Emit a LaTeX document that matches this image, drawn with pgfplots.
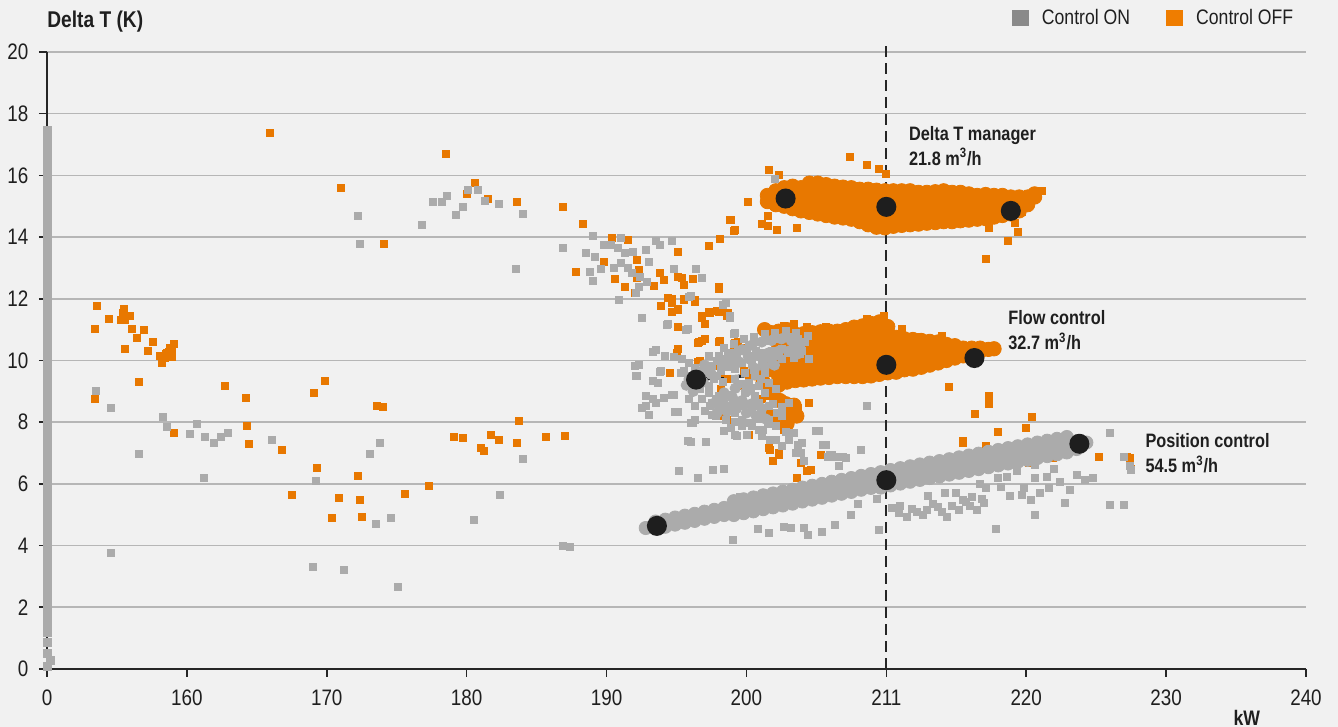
\documentclass[border=0pt]{standalone}
\usepackage{fontspec}
\setmainfont{Liberation Sans}[FakeStretch=0.84]
\usepackage{pgfplots}
\pgfplotsset{compat=1.18}
\definecolor{bgc}{HTML}{F1F1F1}
\definecolor{gridc}{HTML}{B6B6B6}
\definecolor{axisc}{HTML}{262626}
\definecolor{textc}{HTML}{1F1F1F}
\definecolor{grayp}{HTML}{ABABAB}
\definecolor{orangep}{HTML}{E87800}
\definecolor{legendgray}{HTML}{8A8A8A}
\definecolor{legendorange}{HTML}{EF7D00}
\definecolor{dotc}{HTML}{1E1E1E}
\begin{document}
\begin{tikzpicture}
\path[fill=bgc, use as bounding box] (-23.5pt,-29pt) rectangle (645.5pt,334.5pt);
\begin{axis}[
  at={(0pt,0pt)}, anchor=south west,
  scale only axis, width=629.5pt, height=308.5pt,
  xmin=150, xmax=240, ymin=0, ymax=20,
  axis lines*=left,
  axis line style={draw=axisc, line width=0.9pt},
  xtick={150,160,...,240},
  xticklabels={0,160,170,180,190,200,211,220,230,240},
  ytick={0,2,...,20},
  tick align=outside, major tick length=4pt,
  tick style={draw=axisc, line width=0.8pt},
  ymajorgrids, grid style={draw=gridc, line width=0.8pt},
  /pgf/number format/assume math mode=true,
  tick label style={font=\fontsize{11.2}{13}\selectfont, text=textc},
  yticklabel style={xshift=-1.8pt},
  xticklabel style={yshift=-2.8pt},
  clip=false,
  xlabel={kW},
  every axis x label/.style={at={(axis description cs:0.953,0)}, anchor=center, yshift=-24.5pt, font=\bfseries\fontsize{10.5}{12}\selectfont, text=textc},
  ylabel={Delta T (K)},
  every axis y label/.style={at={(axis description cs:0,1)}, anchor=west, yshift=15pt, inner sep=0pt, font=\bfseries\fontsize{11.4}{13}\selectfont, text=textc},
  legend columns=2,
  legend style={at={(axis cs:239.4,21.1)}, anchor=east, draw=none, fill=none, inner sep=0pt, font=\fontsize{10.5}{12}\selectfont, text=textc, /tikz/every even column/.append style={column sep=16pt}},
  legend image code/.code={\fill[#1] (0pt,-4.2pt) rectangle (8.4pt,4.2pt); \path (13pt,0pt);},
]
\addlegendimage{fill=legendgray, draw=none}
\addlegendentry{Control ON}
\addlegendimage{fill=legendorange, draw=none}
\addlegendentry{Control OFF}

% ---------- Control OFF: dense cores ----------
\addplot[only marks, mark=*, mark size=3.6pt, color=orangep, forget plot] coordinates {
(201.5,15.15)(201.5,15.35)
(202.1,15.05)(202.1,15.27)(202.1,15.5)
(202.7,15.0)(202.7,15.2)(202.7,15.4)(202.7,15.6)
(203.3,14.92)(203.3,15.16)(203.3,15.4)(203.3,15.65)
(203.9,14.85)(203.9,15.1)(203.9,15.35)(203.9,15.6)
(204.5,14.8)(204.5,15.05)(204.5,15.3)(204.5,15.55)(204.5,15.75)
(205.1,14.75)(205.1,15.0)(205.1,15.25)(205.1,15.5)(205.1,15.75)
(205.7,14.7)(205.7,14.95)(205.7,15.2)(205.7,15.45)(205.7,15.7)
(206.3,14.65)(206.3,14.9)(206.3,15.15)(206.3,15.4)(206.3,15.65)
(206.9,14.62)(206.9,14.87)(206.9,15.12)(206.9,15.37)(206.9,15.62)
(207.5,14.58)(207.5,14.83)(207.5,15.08)(207.5,15.33)(207.5,15.6)
(208.1,14.5)(208.1,14.75)(208.1,15.0)(208.1,15.25)(208.1,15.55)
(208.7,14.4)(208.7,14.65)(208.7,14.9)(208.7,15.15)(208.7,15.4)(208.7,15.55)
(209.3,14.32)(209.3,14.57)(209.3,14.82)(209.3,15.07)(209.3,15.32)(209.3,15.52)
(209.9,14.3)(209.9,14.55)(209.9,14.8)(209.9,15.05)(209.9,15.3)(209.9,15.5)
(210.5,14.35)(210.5,14.6)(210.5,14.85)(210.5,15.1)(210.5,15.35)(210.5,15.5)
(211.1,14.38)(211.1,14.63)(211.1,14.88)(211.1,15.13)(211.1,15.38)(211.1,15.5)
(211.7,14.4)(211.7,14.65)(211.7,14.9)(211.7,15.15)(211.7,15.4)(211.7,15.5)
(212.3,14.42)(212.3,14.67)(212.3,14.92)(212.3,15.17)(212.3,15.45)
(212.9,14.45)(212.9,14.7)(212.9,14.95)(212.9,15.2)(212.9,15.45)
(213.5,14.47)(213.5,14.72)(213.5,14.97)(213.5,15.22)(213.5,15.47)
(214.1,14.5)(214.1,14.75)(214.1,15.0)(214.1,15.25)(214.1,15.5)
(214.7,14.5)(214.7,14.75)(214.7,15.0)(214.7,15.25)(214.7,15.45)
(215.3,14.53)(215.3,14.78)(215.3,15.03)(215.3,15.28)(215.3,15.45)
(215.9,14.55)(215.9,14.8)(215.9,15.05)(215.9,15.3)(215.9,15.4)
(216.5,14.58)(216.5,14.83)(216.5,15.08)(216.5,15.35)
(217.1,14.6)(217.1,14.85)(217.1,15.1)(217.1,15.38)
(217.7,14.65)(217.7,14.9)(217.7,15.15)(217.7,15.35)
(218.3,14.7)(218.3,14.95)(218.3,15.2)(218.3,15.35)
(218.9,14.75)(218.9,15.0)(218.9,15.25)(218.9,15.3)
(219.5,14.85)(219.5,15.1)(219.5,15.3)
(220.1,15.05)(220.1,15.3)
(220.6,15.3)(220.6,15.4)
(202.3,9.2)(202.3,9.5)(202.3,9.8)(202.3,10.1)(202.3,10.4)(202.3,10.7)(202.3,10.95)
(202.9,9.3)(202.9,9.6)(202.9,9.9)(202.9,10.2)(202.9,10.5)(202.9,10.8)(202.9,11.0)
(203.5,9.35)(203.5,9.65)(203.5,9.95)(203.5,10.25)(203.5,10.55)(203.5,10.85)
(204.1,9.37)(204.1,9.67)(204.1,9.97)(204.1,10.27)(204.1,10.57)(204.1,10.87)
(204.7,9.4)(204.7,9.7)(204.7,10.0)(204.7,10.3)(204.7,10.6)(204.7,10.9)
(205.3,9.43)(205.3,9.73)(205.3,10.03)(205.3,10.33)(205.3,10.63)(205.3,10.93)
(205.9,9.45)(205.9,9.75)(205.9,10.05)(205.9,10.35)(205.9,10.65)(205.9,10.95)
(206.5,9.48)(206.5,9.78)(206.5,10.08)(206.5,10.38)(206.5,10.68)(206.5,10.95)
(207.1,9.48)(207.1,9.78)(207.1,10.08)(207.1,10.38)(207.1,10.68)(207.1,11.0)
(207.7,9.48)(207.7,9.78)(207.7,10.08)(207.7,10.38)(207.7,10.68)(207.7,10.98)(207.7,11.08)
(208.3,9.48)(208.3,9.78)(208.3,10.08)(208.3,10.38)(208.3,10.68)(208.3,10.98)(208.3,11.12)
(208.9,9.5)(208.9,9.8)(208.9,10.1)(208.9,10.4)(208.9,10.7)(208.9,11.0)(208.9,11.2)
(209.5,9.55)(209.5,9.85)(209.5,10.15)(209.5,10.45)(209.5,10.75)(209.5,11.05)(209.5,11.25)
(210.1,9.6)(210.1,9.9)(210.1,10.2)(210.1,10.5)(210.1,10.8)(210.1,11.1)
(210.7,9.62)(210.7,9.92)(210.7,10.22)(210.7,10.52)(210.7,10.75)
(211.3,9.7)(211.3,10.0)(211.3,10.3)(211.3,10.7)
(211.9,9.72)(211.9,10.02)(211.9,10.32)(211.9,10.68)
(212.5,9.78)(212.5,10.08)(212.5,10.38)(212.5,10.65)
(213.1,9.85)(213.1,10.15)(213.1,10.45)(213.1,10.62)
(213.7,9.92)(213.7,10.22)(213.7,10.6)
(214.3,10.0)(214.3,10.3)(214.3,10.52)
(214.9,10.08)(214.9,10.3)(214.9,10.48)
(215.5,10.15)(215.5,10.4)
(216.1,10.22)(216.1,10.4)
(216.7,10.3)(216.7,10.4)
(217.3,10.36)(217.7,10.38)
(201.3,11.0)(201.8,10.9)(200.6,9.6)(201.2,9.3)(201.6,9.7)(201.9,9.0)(202.4,8.7)
(202.8,8.6)(203.4,8.55)(203.0,8.25)(203.6,8.2)(202.9,7.95)
};

% ---------- Control OFF: scattered ----------
\addplot[only marks, mark=square*, mark size=1.75pt, color=orangep, forget plot] coordinates {
(153.6,11.76)(153.4,11.02)(154.4,11.34)(155.5,11.66)(155.4,11.53)(155.7,11.44)(155.6,11.31)(155.9,11.44)(155.3,11.31)
(156.1,11.02)(156.4,10.72)(156.9,10.98)(155.6,10.37)(157.6,10.59)(157.2,10.30)(158.1,10.14)(158.2,9.91)(158.6,10.24)
(158.8,10.40)(159.1,10.53)(158.9,10.11)(158.7,10.27)(158.4,10.08)(158.5,10.2)(158.9,10.3)
(156.6,9.30)(153.4,8.75)(159.1,7.65)(162.7,9.17)(164.2,8.78)(164.3,7.87)(164.4,7.29)(169.1,8.94)(169.9,9.33)
(173.6,8.52)(174.0,8.49)(166.8,7.10)(169.3,6.51)(167.5,5.64)(170.9,5.54)(170.4,4.89)(172.2,6.25)(172.4,5.48)
(172.5,4.92)(175.6,5.67)(177.3,5.93)(179.1,7.52)(179.7,7.48)(181.0,7.16)(181.2,7.06)(181.7,7.58)(182.3,7.42)
(183.7,8.03)(183.6,7.32)(185.7,7.52)(187.0,7.55)
(165.9,17.37)(178.5,16.69)(171.0,15.58)(174.1,13.77)(180.6,15.75)(180.0,15.39)(181.5,15.23)(183.6,15.13)
(186.9,14.97)(188.3,14.42)(187.8,12.86)
(190.4,13.96)(191.5,13.90)(189.8,13.19)(190.6,12.64)(191.3,12.38)(192.0,12.18)(192.2,13.25)(192.3,12.93)
(192.2,12.67)(193.4,12.41)(193.8,12.83)(194.1,12.60)(195.1,13.51)(195.1,12.70)(195.4,12.67)(195.5,12.44)
(196.2,12.64)(194.4,12.02)(194.7,11.86)(195.1,11.63)(195.5,11.96)(196.3,11.89)(193.9,11.76)(195.1,11.08)
(197.3,13.71)(198.1,13.93)(199.1,14.19)(198.8,14.55)(198.0,12.31)(196.8,11.37)(197.4,11.53)(198.0,11.57)
(198.7,11.53)(197.0,11.18)(196.5,10.56)(197.0,10.69)(198.0,10.59)(199.2,10.56)(199.3,10.40)(194.5,9.59)
(195.0,10.24)(196.5,9.95)
(198.0,12.38)(193.9,11.78)(194.7,12.0)(195.1,11.67)(194.7,11.57)(195.5,12.0)(196.3,11.95)(196.8,11.46)
(197.3,11.57)(197.9,11.62)(198.2,11.57)(198.6,11.46)(196.8,10.64)(196.6,10.59)(197.0,10.70)(198.1,10.64)
(199.4,10.59)(199.9,10.42)(199.1,10.32)(194.5,9.61)(195.1,10.37)(196.7,9.99)(197.8,9.83)(198.2,9.61)
(199.2,9.83)(199.8,9.66)(200.2,9.39)(199.4,9.17)(198.2,9.07)(198.7,9.39)(198.0,8.2)(198.6,8.09)(200.2,7.6)
(201.1,8.2)(201.6,8.3)(202.1,8.09)(202.7,8.52)(203.0,8.58)(203.7,8.47)(203.5,8.2)(203.0,7.98)(202.7,7.76)
(203.3,8.3)(201.1,8.74)(201.6,8.85)(204.5,8.61)(201.6,7.16)(202.3,7.0)
(214.5,9.15)(217.3,8.85)(217.3,8.6)(216.3,8.28)(220.4,8.18)(220.0,7.8)(218.0,7.67)(215.5,7.33)
(202.7,11.13)(203.4,11.18)(204.3,11.08)(205.7,11.08)(208.6,11.35)(209.8,11.46)(211.1,11.02)(211.7,10.64)
(212.3,10.75)(212.9,10.64)(214.0,10.80)
(207.4,16.59)(208.6,16.35)(209.5,16.22)(210.0,16.05)(201.6,16.18)(202.3,16.01)(200.1,15.14)(198.9,14.57)
(199.2,14.22)(201.1,14.43)(201.5,14.35)(202.2,14.22)(203.6,14.30)(201.5,14.70)(221.1,15.51)
(219.7,14.81)(219.2,14.46)(219.4,14.16)(218.7,13.89)(217.3,14.30)(217.1,13.30)
(209.6,6.41)(201.7,7.11)(202.3,6.95)(201.9,6.73)(203.9,6.68)(204.3,6.41)(203.6,6.19)(204.6,6.46)(205.3,6.95)
(198.3,8.2)(225.2,6.89)(227.4,6.84)(227.5,6.5)(221.9,6.84)(220.2,6.68)(215.5,7.38)(217.1,7.22)(220.1,6.73)
(221.7,6.84)(227.2,6.87)
};

% ---------- Control ON: dense flow-control blob ----------
\addplot[only marks, mark=*, mark size=2.6pt, color=grayp, forget plot] coordinates {
(199.0,10.2)(199.7,10.35)(200.4,10.5)(201.1,10.6)(201.8,10.65)(202.5,10.7)(203.2,10.65)(203.8,10.5)
(199.5,9.95)(200.2,10.05)(200.9,10.15)(201.6,10.25)(202.3,10.3)(203.0,10.3)(203.6,10.2)
(200.6,9.75)(201.3,9.8)(202.0,9.85)
(197.6,8.6)(198.3,8.7)(199.0,8.8)(199.7,8.7)(200.4,8.6)(201.1,8.45)
(197.9,8.3)(198.6,8.35)(199.3,8.45)(200.0,8.3)(200.7,8.2)(201.4,8.1)
(198.4,8.95)(199.2,9.1)(200.0,9.0)(196.9,9.3)(197.5,9.55)(196.4,9.6)(197.0,9.85)
(195.7,9.2)(196.2,9.0)(195.9,9.4)
};

% ---------- Control ON: position control band ----------
\addplot[only marks, mark=*, mark size=3.3pt, color=grayp, forget plot] coordinates {
(192.8,4.57)(193.5,4.55)(193.5,4.78)(194.2,4.61)(194.2,4.84)(194.9,4.68)(194.9,4.91)(195.6,4.74)(195.6,4.97)
(196.3,4.80)(196.3,5.03)(197.0,4.87)(197.0,5.10)(197.7,4.93)(197.7,5.16)(198.4,4.99)(198.4,5.22)
(199.1,4.99)(199.1,5.22)(199.1,5.44)(199.8,5.05)(199.8,5.28)(199.8,5.50)(200.5,5.11)(200.5,5.34)(200.5,5.56)
(201.2,5.18)(201.2,5.41)(201.2,5.63)(201.9,5.24)(201.9,5.47)(201.9,5.69)(202.6,5.30)(202.6,5.53)(202.6,5.75)
(203.3,5.36)(203.3,5.59)(203.3,5.81)(204.0,5.43)(204.0,5.66)(204.0,5.88)(204.7,5.49)(204.7,5.72)(204.7,5.94)
(205.4,5.55)(205.4,5.78)(205.4,6.00)(206.1,5.62)(206.1,5.85)(206.1,6.07)(206.8,5.68)(206.8,5.91)(206.8,6.13)
(207.5,5.74)(207.5,5.97)(207.5,6.19)(208.2,5.81)(208.2,6.04)(208.2,6.26)(208.9,5.87)(208.9,6.10)(208.9,6.32)
(209.6,5.88)(209.6,6.13)(209.6,6.38)(210.3,5.95)(210.3,6.20)(210.3,6.45)(211.0,6.01)(211.0,6.26)(211.0,6.51)
(211.7,6.07)(211.7,6.32)(211.7,6.57)(212.4,6.13)(212.4,6.38)(212.4,6.63)(213.1,6.19)(213.1,6.44)(213.1,6.69)
(213.8,6.24)(213.8,6.49)(213.8,6.74)(214.5,6.30)(214.5,6.55)(214.5,6.80)(215.2,6.36)(215.2,6.61)(215.2,6.86)
(215.9,6.42)(215.9,6.67)(215.9,6.92)(216.6,6.48)(216.6,6.73)(216.6,6.98)(217.3,6.54)(217.3,6.79)(217.3,7.04)
(218.0,6.60)(218.0,6.85)(218.0,7.10)(218.7,6.66)(218.7,6.91)(218.7,7.16)(219.4,6.72)(219.4,6.97)(219.4,7.22)
(220.1,6.78)(220.1,7.03)(220.1,7.28)(220.8,6.84)(220.8,7.09)(220.8,7.34)(221.5,6.90)(221.5,7.15)(221.5,7.40)
(222.2,6.96)(222.2,7.21)(222.2,7.46)(222.9,7.02)(222.9,7.27)(222.9,7.52)(223.6,7.13)(223.6,7.38)(224.3,7.34)
};

% ---------- Control ON: scattered ----------
\addplot[only marks, mark=square*, mark size=1.75pt, color=grayp, forget plot] coordinates {
(153.5,9.01)(154.6,8.46)(158.3,8.16)(158.6,7.84)(156.6,6.97)(160.7,7.94)(160.2,7.61)(161.3,7.52)(161.9,7.32)
(162.4,7.52)(162.9,7.65)(161.2,6.19)(166.1,7.42)(169.2,6.09)(169.0,3.30)(171.2,3.21)(175.1,2.66)(173.1,6.97)
(173.8,7.32)(173.5,4.70)(174.6,4.89)(180.5,4.83)(182.4,5.64)(184.0,6.80)(186.9,3.99)(187.4,3.95)(154.6,3.76)
(172.2,14.68)(172.4,13.77)(176.8,14.38)(177.6,15.13)(178.2,15.13)(178.6,15.32)(179.2,14.71)(179.7,14.97)
(180.1,15.52)(180.8,15.52)(181.3,15.16)(182.3,15.07)(184.0,14.74)(183.5,12.96)(186.9,13.64)(189.0,14.03)
(188.5,13.48)(189.2,13.35)(188.8,12.86)(189.0,12.57)(189.6,12.96)
(191.0,13.96)(193.5,13.87)(193.8,13.74)(194.7,13.87)(189.8,13.74)(190.3,13.74)(190.8,13.64)(191.3,13.48)
(191.9,13.51)(191.0,13.15)(191.5,12.99)(190.5,12.99)(191.8,12.83)(192.4,12.70)(192.8,13.58)(193.0,13.19)
(192.9,12.54)(192.3,12.38)(192.1,12.18)(194.8,12.96)(196.4,12.96)(196.8,12.67)(190.9,11.96)(192.5,11.37)
(194.3,11.15)(195.7,10.98)(195.9,12.05)(198.3,11.79)(198.8,11.37)(199.1,10.85)(193.5,10.34)(193.3,10.27)
(192.0,9.82)(192.1,9.49)(193.8,9.62)(194.7,8.88)(195.3,9.59)
(197.3,10.15)(198.0,10.15)(198.7,10.26)(199.4,10.32)(200.2,10.48)(200.9,10.59)(201.6,10.64)(202.3,10.70)
(203.0,10.75)(203.7,10.70)(200.4,10.15)(201.1,10.26)(201.8,10.32)(202.5,10.37)(203.3,10.48)(204.0,10.32)
(204.5,10.04)(197.5,9.83)(198.2,9.93)(199.0,9.99)(199.7,9.93)(200.4,9.88)(201.1,9.93)(201.8,9.99)(202.5,10.04)
(203.4,10.10)(198.2,9.66)(199.2,9.72)(199.9,9.61)(200.6,9.50)(201.3,9.61)(199.2,9.39)(200.2,9.28)(200.9,9.17)
(201.6,9.28)(199.9,8.96)(200.6,8.85)(201.3,8.96)(202.1,9.07)
(198.4,10.4)(199.1,10.55)(199.8,10.7)(200.5,10.75)(201.3,10.85)(202.0,10.9)(202.8,10.95)(203.5,10.9)(204.2,10.6)
(203.9,10.45)(203.1,10.25)(202.2,10.15)(201.4,10.1)(200.7,10.3)(200.0,10.2)(199.3,10.1)(198.6,10.05)(197.9,10.0)
(204.4,10.8)(203.8,10.2)
(197.9,9.5)(198.6,9.8)(199.6,9.25)(200.3,9.1)(201.0,9.4)(200.5,9.7)(199.5,8.7)(198.9,8.9)(198.3,9.3)(197.7,9.4)
(197.1,9.6)(196.5,9.2)(197.8,8.75)(198.4,8.4)(199.0,8.6)(200.2,8.6)(201.9,8.6)(202.5,8.5)(201.5,7.95)(200.9,8.1)
(199.2,8.0)(198.9,7.8)(200.0,7.6)(202.8,7.7)(203.4,7.65)
(195.4,10.04)(195.9,9.93)(196.3,9.77)(196.8,9.66)(195.5,9.66)(196.1,9.50)(196.8,9.39)(197.3,9.17)(196.7,9.07)
(197.3,8.96)(198.0,8.85)(197.5,8.63)(196.8,8.74)(198.0,8.52)(198.7,8.52)(199.2,8.30)(199.7,8.09)(198.5,8.09)
(197.8,8.20)(195.9,8.74)(196.3,8.52)(197.0,8.36)(197.5,8.25)
(199.7,8.52)(200.4,8.41)(200.9,8.63)(201.1,8.30)(201.6,8.52)(199.7,7.87)(200.4,7.98)(200.9,7.76)(201.6,8.09)
(202.1,7.87)(202.5,8.20)(202.2,8.30)(203.0,8.63)
(194.4,11.18)(195.8,11.02)(196.0,12.1)(198.5,11.87)(198.8,11.43)(199.2,10.89)(192.3,9.85)(192.2,9.5)
(193.9,9.66)(193.3,9.34)(193.7,9.28)(192.8,8.85)(193.3,8.74)(194.1,8.79)(194.8,8.9)(192.5,8.47)(193.0,8.25)
(194.9,8.33)(196.0,7.98)(196.3,8.09)(196.0,7.35)(197.1,7.35)(194.2,10.15)(194.8,10.13)
(199.2,7.6)(200.2,7.98)(200.9,7.76)(201.1,7.54)(202.1,7.43)(203.0,7.43)(204.0,7.33)(202.5,7.22)(203.5,7.0)
(205.2,7.71)(206.1,6.95)(206.9,6.89)(208.2,7.11)(208.6,8.54)
(192.8,8.52)(193.5,8.63)(195.1,8.33)(196.2,7.98)(197.4,8.52)(200.9,8.52)(200.4,7.87)(201.2,7.76)(201.7,7.44)
(202.5,8.25)(203.0,7.44)(203.7,7.27)(203.9,7.0)(204.1,6.73)(205.0,7.71)(205.7,7.27)(206.0,6.95)
(199.0,4.18)(195.2,6.41)(196.5,6.19)(197.6,6.46)(198.4,6.48)(199.5,5.59)(195.8,7.38)(198.4,7.71)(199.3,7.57)
(203.2,4.56)(204.1,4.56)(204.4,4.34)(205.4,4.45)(206.3,4.67)(205.5,7.27)(205.8,6.89)(206.4,6.89)(207.1,6.84)
(206.6,6.57)(209.5,4.51)(210.4,5.21)(210.9,5.05)(211.5,4.94)(212.2,5.10)(212.9,5.16)(213.7,5.27)(214.3,4.94)
(215.2,5.16)(215.7,5.43)(216.5,5.16)(217.0,5.38)(215.0,5.70)(215.5,5.48)(216.1,5.59)(217.1,5.86)(217.8,4.53)
(218.6,6.24)(219.3,6.41)(219.8,5.86)(220.3,5.48)(219.7,5.65)(220.6,6.19)(221.6,5.86)(222.4,6.08)(223.1,5.81)
(222.8,5.38)(220.6,5.0)(224.2,6.13)(224.8,6.19)(226.0,7.65)(227.0,6.89)(227.4,6.57)(227.5,6.46)(226.0,5.32)
(227.0,5.32)(220.6,6.62)(221.5,6.24)
(211.0,5.3)(211.8,5.2)(212.6,5.0)(213.3,5.35)(214.0,5.1)(214.7,5.3)(216.0,5.3)(216.8,5.5)(213.0,5.6)(214.2,5.7)
(218.2,5.9)(218.8,5.6)(221.0,5.7)(223.6,6.3)(222.0,6.5)(218.0,6.2)(216.7,6.0)
(200.8,4.55)(201.6,4.4)(202.7,4.6)(207.5,5.0)(208.0,5.35)(209.3,5.5)(202.0,15.89)
};

% ---------- Control ON: points at 0 kW ----------
\addplot[only marks, mark=square*, mark size=2pt, color=grayp, forget plot] coordinates {
(150,0.1)(150.25,0.28)(150,0.5)(150,0.85)
(150,1.2)(150,1.45)(150,1.7)(150,1.95)(150,2.2)(150,2.45)(150,2.7)(150,2.95)(150,3.2)(150,3.45)(150,3.7)(150,3.95)
(150,4.2)(150,4.45)(150,4.7)(150,4.95)(150,5.2)(150,5.45)(150,5.7)(150,5.95)(150,6.2)(150,6.45)(150,6.7)(150,6.95)
(150,7.2)(150,7.45)(150,7.7)(150,7.95)(150,8.2)(150,8.45)(150,8.7)(150,8.95)(150,9.2)(150,9.45)(150,9.7)(150,9.95)
(150,10.2)(150,10.45)(150,10.7)(150,10.95)(150,11.2)(150,11.45)(150,11.7)(150,11.95)(150,12.2)(150,12.45)(150,12.7)
(150,12.95)(150,13.2)(150,13.45)(150,13.7)(150,13.95)(150,14.2)(150,14.45)(150,14.7)(150,14.95)(150,15.2)(150,15.45)
(150,15.7)(150,15.95)(150,16.2)(150,16.45)(150,16.7)(150,16.95)(150,17.2)(150,17.45)
};

% ---------- reference line at 211 ----------
\addplot[axisc, line width=1pt, dash pattern=on 5.5pt off 3pt, forget plot] coordinates {(210,0) (210,20.25)};

% ---------- trend lines ----------
\addplot[dotc, line width=1.6pt, mark=*, mark size=4.2pt, mark options={solid}, forget plot] coordinates {(202.8,15.25) (210,14.98) (218.9,14.85)};
\addplot[dotc, line width=1.6pt, mark=*, mark size=4.2pt, mark options={solid}, forget plot] coordinates {(196.4,9.38) (210,9.86) (216.3,10.08)};
\addplot[dotc, line width=1.6pt, mark=*, mark size=4.2pt, mark options={solid}, forget plot] coordinates {(193.6,4.64) (210,6.12) (223.8,7.30)};

\node[anchor=west, align=left, inner sep=0pt, font=\bfseries\fontsize{9.7}{12.5}\selectfont, text=textc] at (axis cs:211.6,16.96) {Delta T manager\\21.8 m\textsuperscript{3}/h};
\node[anchor=west, align=left, inner sep=0pt, font=\bfseries\fontsize{9.7}{12.5}\selectfont, text=textc] at (axis cs:218.7,10.97) {Flow control\\32.7 m\textsuperscript{3}/h};
\node[anchor=west, align=left, inner sep=0pt, font=\bfseries\fontsize{9.7}{12.5}\selectfont, text=textc] at (axis cs:228.5,6.98) {Position control\\54.5 m\textsuperscript{3}/h};
\end{axis}
\end{tikzpicture}
\end{document}
